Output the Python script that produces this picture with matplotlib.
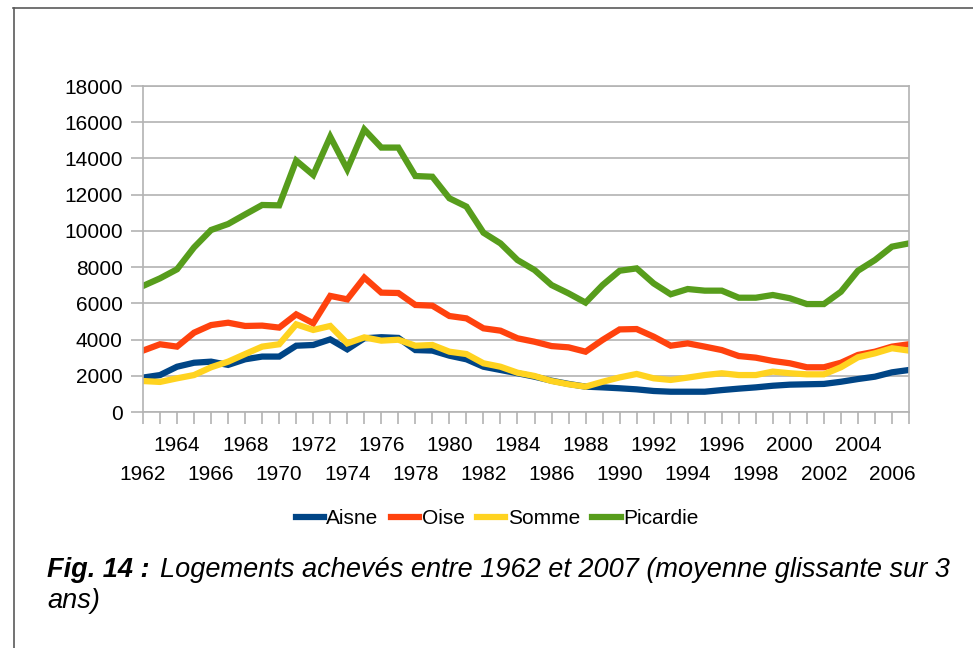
import numpy as np
import matplotlib
matplotlib.use("Agg")
import matplotlib.pyplot as plt
from matplotlib.lines import Line2D

# years 1962..2007
years = list(range(1962, 2008))

aisne = [1900, 2040, 2500, 2720, 2780, 2600, 2910, 3060, 3060, 3660, 3700, 4010,
         3460, 4070, 4130, 4090, 3420, 3390, 3110, 2910, 2500, 2320, 2140, 1950,
         1730, 1550, 1400, 1360, 1310, 1250, 1160, 1120, 1120, 1120, 1210, 1290,
         1360, 1450, 1510, 1530, 1550, 1670, 1820, 1950, 2190, 2320]
oise = [3390, 3740, 3610, 4380, 4800, 4930, 4750, 4770, 4660, 5390, 4900, 6410,
        6220, 7420, 6590, 6570, 5910, 5870, 5300, 5170, 4620, 4490, 4070, 3880,
        3640, 3570, 3330, 3980, 4560, 4580, 4160, 3660, 3790, 3610, 3420, 3090,
        3000, 2820, 2690, 2470, 2470, 2720, 3150, 3330, 3610, 3740]
somme = [1710, 1660, 1860, 2040, 2470, 2780, 3200, 3610, 3740, 4840, 4530, 4750,
         3790, 4120, 3940, 3990, 3660, 3700, 3330, 3200, 2690, 2500, 2170, 1990,
         1710, 1530, 1400, 1670, 1910, 2100, 1860, 1770, 1900, 2040, 2140, 2040,
         2040, 2230, 2140, 2080, 2080, 2470, 3020, 3240, 3520, 3390]
picardie = [6960, 7380, 7880, 9090, 10050, 10380, 10910, 11430, 11410, 13880,
            13090, 15200, 13400, 15600, 14600, 14600, 13030, 12990, 11800, 11340,
            9900, 9310, 8390, 7840, 7010, 6550, 6040, 7010, 7800, 7930, 7100,
            6500, 6790, 6700, 6700, 6310, 6310, 6460, 6280, 5960, 5960, 6640,
            7800, 8390, 9130, 9310]

series = ["Aisne", "Oise", "Somme", "Picardie"]
colors = ["#004586", "#ff420e", "#ffd320", "#579d1c"]

plt.rcParams["font.family"] = ["Liberation Sans", "DejaVu Sans"]

W, H = 973, 648
fig = plt.figure(figsize=(W / 100, H / 100), dpi=100)
ax = fig.add_axes([143 / W, 1 - 412 / H, (909 - 143) / W, (412 - 86) / H])

for vals, name, c in zip([aisne, oise, somme, picardie], series, colors):
    ax.plot(years, vals, color=c, lw=4.5, label=name, solid_joinstyle="miter")

grid_c = "#b3b3b3"
ax.set_xlim(1962, 2007)
ax.set_ylim(0, 18000)
ax.set_yticks(range(0, 18001, 2000))
ax.yaxis.grid(True, color=grid_c, lw=1.2)
ax.set_axisbelow(True)
for s in ax.spines.values():
    s.set_color(grid_c)
    s.set_linewidth(1.2)

# staggered year labels: upper row on major ticks, lower row on minor ticks
upper = [y for y in years if (y - 1964) % 4 == 0]
lower = [y for y in years if y not in upper]
ax.set_xticks(upper)
ax.set_xticklabels([str(y) for y in upper])
ax.set_xticks(lower, minor=True)
ax.set_xticklabels([str(y) if (y - 1962) % 4 == 0 else "" for y in lower], minor=True)

ax.tick_params(axis="both", which="both", colors=grid_c, labelcolor="black",
               labelsize=15, length=8.5, width=1.2)
ax.tick_params(axis="x", which="major", pad=9)
ax.tick_params(axis="x", which="minor", pad=29.5)
ax.tick_params(axis="y", pad=6)

fig.legend(loc="center", bbox_to_anchor=(497 / W, 1 - 519 / H), ncol=4,
           frameon=False, fontsize=15, handlelength=1.35, handletextpad=0.12,
           columnspacing=0.6)

# caption
cap = 19.5
fig.text(47 / W, 1 - 570 / H, "Fig. 14 :", fontsize=cap, style="italic",
         weight="bold", va="center")
fig.text(160 / W, 1 - 570 / H,
         "Logements achevés entre 1962 et 2007 (moyenne glissante sur 3",
         fontsize=cap, style="italic", va="center")
fig.text(47 / W, 1 - 601 / H, "ans)", fontsize=cap, style="italic", va="center")

# outer frame (left and top)
fig.add_artist(Line2D([13.5 / W, 13.5 / W], [0, 1 - 8 / H], color="#5a5a5a", lw=1.2))
fig.add_artist(Line2D([13 / W, 1], [1 - 8 / H, 1 - 8 / H], color="#5a5a5a", lw=1.2))

fig.savefig("out.png", dpi=100)
